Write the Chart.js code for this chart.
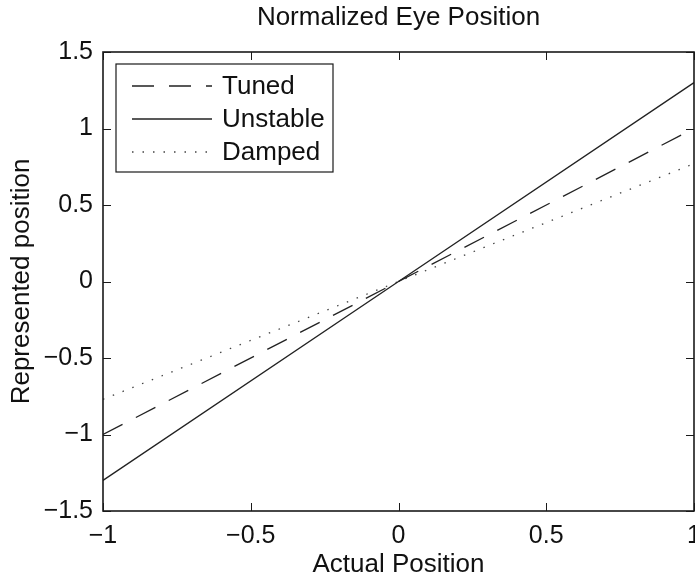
<!DOCTYPE html>
<html>
<head>
<meta charset="utf-8">
<title>Normalized Eye Position</title>
<script src="https://cdn.jsdelivr.net/npm/chart.js@4/dist/chart.umd.min.js"></script>
<style>
  html, body { margin: 0; padding: 0; background: #fff; }
  #wrap { width: 695px; height: 579px; }
</style>
</head>
<body>
<div id="wrap"><canvas id="eyeChart"></canvas></div>
<script>
// actual eye position and how each integrator represents it
const positions = [-1, 0, 1];
const tuned = [-1, 0, 1];
const unstable = [-1.3, 0, 1.3];
const damped = [-0.77, 0, 0.77];

const xTicks = [-1, -0.5, 0, 0.5, 1];
const yTicks = [-1.5, -1, -0.5, 0, 0.5, 1, 1.5];

const FONT = "'Liberation Sans', Arial, Helvetica, sans-serif";
const INK = '#1a1a1a';

function toPoints(ys) {
  return positions.map((x, i) => ({ x: x, y: ys[i] }));
}

// matlab style minus sign on the tick labels
function fmt(v) {
  return v < 0 ? '\u2212' + Math.abs(v) : String(v);
}

// box around the axes plus inward tick marks on all four sides
const frame = {
  id: 'frame',
  afterDatasetsDraw(chart) {
    const { ctx, chartArea: a, scales } = chart;
    const len = 8;
    ctx.save();
    ctx.strokeStyle = INK;
    ctx.lineWidth = 1;
    ctx.beginPath();
    xTicks.forEach(v => {
      const px = Math.round(scales.x.getPixelForValue(v)) + 0.5;
      ctx.moveTo(px, a.bottom); ctx.lineTo(px, a.bottom - len);
      ctx.moveTo(px, a.top); ctx.lineTo(px, a.top + len);
    });
    yTicks.forEach(v => {
      const py = Math.round(scales.y.getPixelForValue(v)) + 0.5;
      ctx.moveTo(a.left, py); ctx.lineTo(a.left + len, py);
      ctx.moveTo(a.right, py); ctx.lineTo(a.right - len, py);
    });
    ctx.stroke();
    ctx.lineWidth = 1.6;
    ctx.strokeRect(a.left, a.top, a.right - a.left, a.bottom - a.top);
    ctx.restore();
  }
};

// legend box in the upper left corner of the axes
const boxLegend = {
  id: 'boxLegend',
  afterDraw(chart) {
    const { ctx, chartArea: a } = chart;
    const left = a.left + 13, top = a.top + 12;
    const w = 217, h = 108;
    ctx.save();
    ctx.fillStyle = '#fff';
    ctx.fillRect(left, top, w, h);
    ctx.strokeStyle = INK;
    ctx.lineWidth = 1.2;
    ctx.strokeRect(left, top, w, h);
    ctx.font = '26px ' + FONT;
    ctx.textBaseline = 'middle';
    ctx.fillStyle = '#111';
    chart.data.datasets.forEach((ds, i) => {
      const y = top + 22 + i * 33;
      ctx.beginPath();
      ctx.setLineDash(ds.borderDash || []);
      ctx.lineWidth = ds.borderWidth;
      ctx.strokeStyle = ds.borderColor;
      ctx.moveTo(left + 16, y);
      ctx.lineTo(left + 96, y);
      ctx.stroke();
      ctx.setLineDash([]);
      ctx.fillText(ds.label, left + 106, y + 1);
    });
    ctx.restore();
  }
};

var ctx = document.getElementById('eyeChart').getContext('2d');
var eyeChart = new Chart(ctx, {
  type: 'scatter',
  data: {
    datasets: [{
      label: 'Tuned',
      data: toPoints(tuned),
      showLine: true,
      borderColor: '#222',
      borderWidth: 1.3,
      borderDash: [22, 15],
      pointRadius: 0
    },
    {
      label: 'Unstable',
      data: toPoints(unstable),
      showLine: true,
      borderColor: '#222',
      borderWidth: 1.3,
      pointRadius: 0
    },
    {
      label: 'Damped',
      data: toPoints(damped),
      showLine: true,
      borderColor: '#444',
      borderWidth: 1.3,
      borderDash: [1.5, 9],
      pointRadius: 0
    }]
  },
  options: {
    responsive: true,
    maintainAspectRatio: false,
    animation: false,
    layout: { padding: { left: 0, right: 1, top: 0, bottom: 0 } },
    plugins: {
      legend: { display: false },
      tooltip: { enabled: false },
      title: {
        display: true,
        fullSize: false,
        text: 'Normalized Eye Position',
        color: '#111',
        font: { family: FONT, size: 26, weight: 'normal' },
        padding: { top: 2, bottom: 18.8 }
      }
    },
    scales: {
      x: {
        type: 'linear',
        min: -1,
        max: 1,
        afterBuildTicks(scale) { scale.ticks = xTicks.map(v => ({ value: v })); },
        afterFit(scale) {
          scale.height = 68;
          scale.paddingLeft = 0;
          scale.paddingRight = 0;
        },
        grid: { display: false, drawTicks: false },
        border: { display: false },
        ticks: {
          color: '#111',
          padding: 10,
          maxRotation: 0,
          autoSkip: false,
          font: { family: FONT, size: 25 },
          callback: v => fmt(v)
        },
        title: {
          display: true,
          text: 'Actual Position',
          color: '#111',
          font: { family: FONT, size: 26 },
          padding: { top: 0, bottom: -1 }
        }
      },
      y: {
        type: 'linear',
        min: -1.5,
        max: 1.5,
        afterBuildTicks(scale) { scale.ticks = yTicks.map(v => ({ value: v })); },
        afterFit(scale) {
          scale.width = 103;
          scale.paddingTop = 0;
          scale.paddingBottom = 0;
        },
        grid: { display: false, drawTicks: false },
        border: { display: false },
        ticks: {
          color: '#111',
          padding: 10,
          autoSkip: false,
          font: { family: FONT, size: 25 },
          callback: v => fmt(v)
        },
        title: {
          display: true,
          text: 'Represented position',
          color: '#111',
          font: { family: FONT, size: 26 },
          padding: { top: 6.4, bottom: 0 }
        }
      }
    }
  },
  plugins: [frame, boxLegend]
});
</script>
</body>
</html>
